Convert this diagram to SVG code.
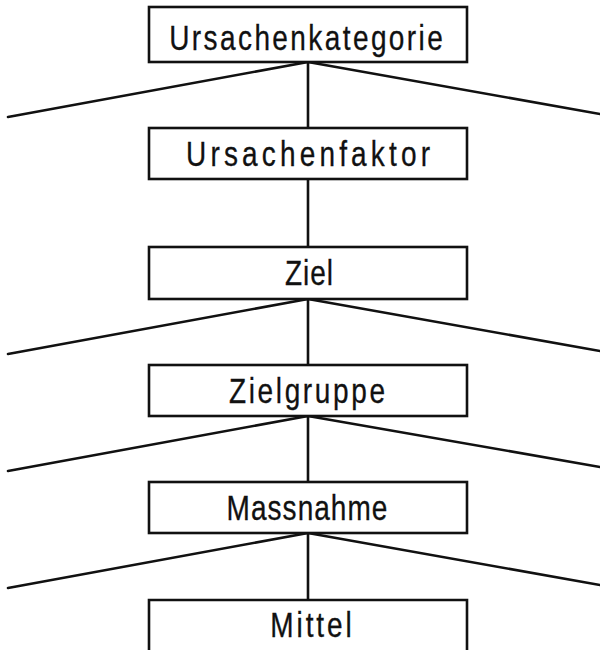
<svg xmlns="http://www.w3.org/2000/svg" width="600" height="650" viewBox="0 0 600 650">
  <style>
    .box { fill: #fff; stroke: #111; stroke-width: 2.6; }
    .lbl { font-family: "Liberation Sans", "DejaVu Sans", sans-serif; font-size: 35px; fill: #111; stroke: #111; stroke-width: 0.3; text-anchor: middle; }
    .conn line { stroke: #111; stroke-width: 2.6; stroke-linecap: round; }
  </style>
  <rect width="600" height="650" fill="#fff"/>

  <!-- connectors: vertical links and fans below each level -->
  <g id="connectors" class="conn">
    <line x1="308" y1="62" x2="308" y2="128"/>
    <line x1="308" y1="62" x2="8" y2="117"/>
    <line x1="308" y1="62" x2="600" y2="114"/>

    <line x1="308" y1="179" x2="308" y2="247"/>

    <line x1="308" y1="299" x2="308" y2="365"/>
    <line x1="308" y1="299" x2="8" y2="354"/>
    <line x1="308" y1="299" x2="600" y2="351"/>

    <line x1="308" y1="416" x2="308" y2="482"/>
    <line x1="308" y1="416" x2="8" y2="471"/>
    <line x1="308" y1="416" x2="600" y2="467"/>

    <line x1="308" y1="533" x2="308" y2="600"/>
    <line x1="308" y1="533" x2="8" y2="588"/>
    <line x1="308" y1="533" x2="600" y2="585"/>
  </g>

  <!-- labels use condensed glyphs with open letter spacing -->
  <g id="ursachenkategorie">
    <rect class="box" x="149" y="7" width="318" height="55"/>
    <text class="lbl" transform="translate(306,0) scale(0.8,1)" x="0" y="50" textLength="342" lengthAdjust="spacing">Ursachenkategorie</text>
  </g>

  <g id="ursachenfaktor">
    <rect class="box" x="149" y="128" width="318" height="51"/>
    <text class="lbl" transform="translate(308,0) scale(0.8,1)" x="0" y="166" textLength="305" lengthAdjust="spacing">Ursachenfaktor</text>
  </g>

  <g id="ziel">
    <rect class="box" x="149" y="247" width="318" height="52"/>
    <text class="lbl" transform="translate(309,0) scale(0.8,1)" x="0" y="285" textLength="60" lengthAdjust="spacing">Ziel</text>
  </g>

  <g id="zielgruppe">
    <rect class="box" x="149" y="365" width="318" height="51"/>
    <text class="lbl" transform="translate(307,0) scale(0.8,1)" x="0" y="403" textLength="195" lengthAdjust="spacing">Zielgruppe</text>
  </g>

  <g id="massnahme">
    <rect class="box" x="149" y="482" width="318" height="51"/>
    <text class="lbl" transform="translate(307,0) scale(0.8,1)" x="0" y="520" textLength="201" lengthAdjust="spacing">Massnahme</text>
  </g>

  <g id="mittel">
    <path class="box" d="M149,652 V600 H467 V652"/>
    <text class="lbl" transform="translate(311,0) scale(0.8,1)" x="0" y="637" textLength="102" lengthAdjust="spacing">Mittel</text>
  </g>
</svg>
